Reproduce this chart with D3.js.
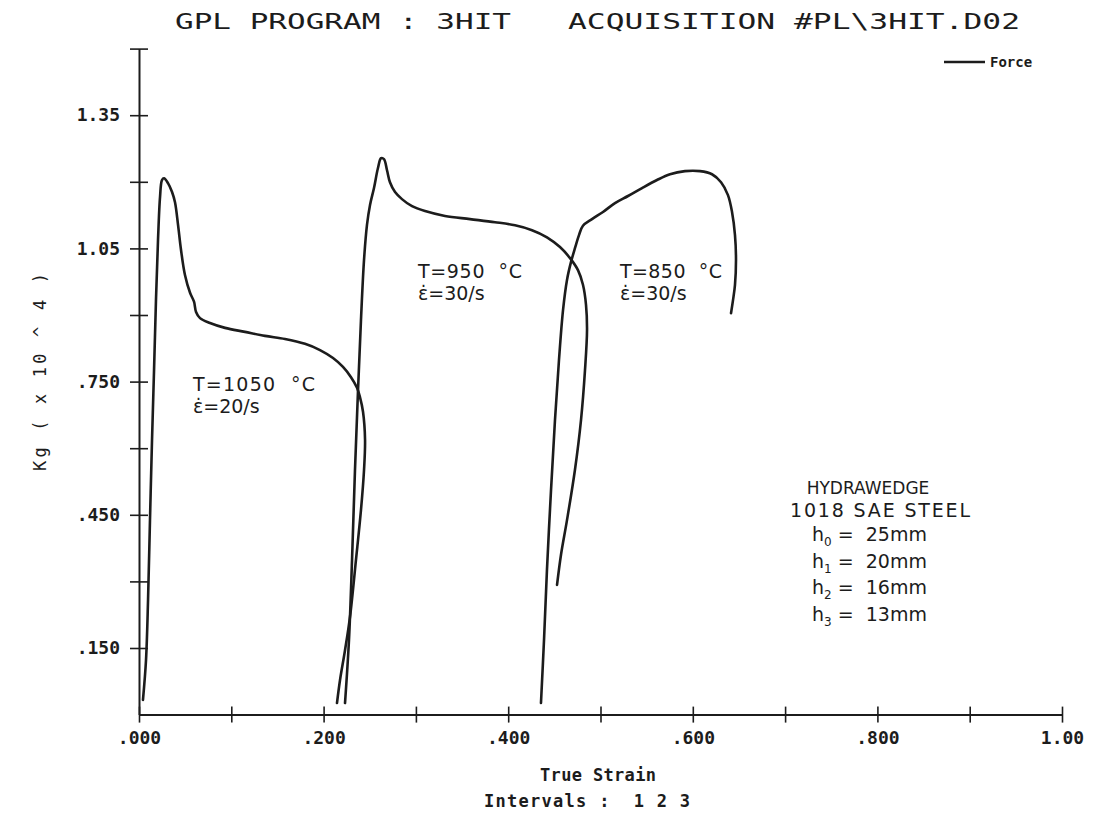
<!DOCTYPE html>
<html>
<head>
<meta charset="utf-8">
<script src="https://cdn.jsdelivr.net/npm/d3@7"></script>
<style>
  html, body { margin: 0; padding: 0; background: #fff; }
  svg { display: block; }
</style>
</head>
<body>
<svg id="chart" width="1093" height="814"></svg>
<script>
// ---------------- data (True Strain vs Kg x 10^4) ----------------
const strain1 = [0.0043,0.0076,0.0098,0.0119,0.0141,0.0163,0.0184,0.0206,0.0228,0.0249,0.0271,0.0314,0.0358,0.0390,0.0423,0.0455,0.0498,0.0553,0.0596,0.0618,0.0661,0.0769,0.0932,0.1148,0.1365,0.1582,0.1798,0.1961,0.2102,0.2210,0.2297,0.2362,0.2394,0.2427,0.2449,0.2438,0.2405,0.2351,0.2286,0.2232,0.2178,0.2145];
const force1  = [0.033,0.123,0.258,0.438,0.618,0.776,0.934,1.069,1.166,1.204,1.208,1.197,1.177,1.154,1.103,1.047,0.990,0.950,0.930,0.907,0.893,0.882,0.871,0.862,0.853,0.846,0.835,0.821,0.803,0.783,0.760,0.736,0.715,0.682,0.619,0.551,0.461,0.349,0.220,0.145,0.078,0.026];

const strain2 = [0.2232,0.2275,0.2308,0.2340,0.2373,0.2405,0.2438,0.2470,0.2503,0.2546,0.2589,0.2622,0.2654,0.2687,0.2719,0.2774,0.2849,0.2958,0.3099,0.3315,0.3586,0.3857,0.4074,0.4258,0.4420,0.4561,0.4670,0.4756,0.4810,0.4843,0.4854,0.4832,0.4789,0.4723,0.4637,0.4572,0.4529];
const force2  = [0.026,0.168,0.348,0.551,0.731,0.889,1.024,1.103,1.148,1.186,1.231,1.253,1.251,1.226,1.199,1.177,1.161,1.145,1.134,1.123,1.116,1.109,1.102,1.091,1.075,1.053,1.028,1.001,0.968,0.923,0.866,0.776,0.664,0.551,0.438,0.360,0.292];

const strain3 = [0.4355,0.4388,0.4420,0.4464,0.4507,0.4550,0.4594,0.4637,0.4680,0.4724,0.4767,0.4810,0.4908,0.5027,0.5157,0.5298,0.5450,0.5612,0.5753,0.5915,0.6078,0.6208,0.6306,0.6381,0.6425,0.6457,0.6468,0.6457,0.6436,0.6414];
const force3  = [0.026,0.168,0.326,0.506,0.664,0.798,0.911,0.979,1.019,1.051,1.080,1.101,1.116,1.132,1.152,1.168,1.186,1.204,1.217,1.224,1.224,1.217,1.199,1.170,1.132,1.080,1.024,0.968,0.934,0.904];

const xTickValues = [0,0.1,0.2,0.3,0.4,0.5,0.6,0.7,0.8,0.9,1.0];
const xTickLabels = {"0":".000","0.2":".200","0.4":".400","0.6":".600","0.8":".800","1":"1.00"};
const yTickValues = [0.15,0.30,0.45,0.60,0.75,0.90,1.05,1.20,1.35,1.50];
const yTickLabels = {"0.15":".150","0.45":".450","0.75":".750","1.05":"1.05","1.35":"1.35"};

const titleLeft = "GPL PROGRAM : 3HIT";
const titleRight = "ACQUISITION #PL\\3HIT.D02";
const xTitle = "True Strain";
const xSubTitle = "Intervals :  1 2 3";
const yTitle = "Kg ( x 10 ^ 4 )";
const legendLabel = "Force";
const curveLabels = [
  {t:"T=1050  \u00B0C", r:"\u03B5\u0307=20/s"},
  {t:"T=950  \u00B0C",  r:"\u03B5\u0307=30/s"},
  {t:"T=850  \u00B0C",  r:"\u03B5\u0307=30/s"}
];
const infoLines = ["HYDRAWEDGE","1018 SAE STEEL"];
const heights = [["0","25mm"],["1","20mm"],["2","16mm"],["3","13mm"]];

// ---------------- drawing ----------------
const ink = "#1c1c1c";
const mono = "'DejaVu Sans Mono', monospace";
const sans = "'DejaVu Sans', sans-serif";
const svg = d3.select("#chart");
svg.append("rect").attr("width",1093).attr("height",814).attr("fill","#fff");

const x = d3.scaleLinear().domain([0,1]).range([139,1062]);
const y = d3.scaleLinear().domain([0,1.5]).range([714.6,48.6]);

// title
svg.append("text").attr("x",175).attr("y",29)
  .attr("font-family",mono).attr("font-size",22).attr("fill",ink)
  .attr("textLength",336).attr("lengthAdjust","spacingAndGlyphs").text(titleLeft);
svg.append("text").attr("x",568).attr("y",29)
  .attr("font-family",mono).attr("font-size",22).attr("fill",ink)
  .attr("textLength",452).attr("lengthAdjust","spacingAndGlyphs").text(titleRight);

// x axis
const xAxis = d3.axisBottom(x).tickValues(xTickValues)
  .tickFormat(d => xTickLabels[String(+d.toFixed(1))] || "").tickSize(0).tickPadding(17);
const gx = svg.append("g").attr("transform",`translate(0,${y(0)})`).call(xAxis);
gx.select(".domain").attr("stroke",ink).attr("stroke-width",2);
gx.selectAll(".tick line").attr("y1",-8).attr("y2",8).attr("stroke",ink).attr("stroke-width",1.6);
gx.selectAll(".tick text").attr("font-family",mono)
  .attr("font-size",18).attr("font-weight","bold").attr("fill",ink);

// y axis
const yAxis = d3.axisLeft(y).tickValues(yTickValues)
  .tickFormat(d => yTickLabels[String(+d.toFixed(2))] || "").tickSize(0).tickPadding(19);
const gy = svg.append("g").attr("transform",`translate(${x(0)},0)`).call(yAxis);
gy.select(".domain").attr("stroke",ink).attr("stroke-width",2);
gy.selectAll(".tick line").attr("x1",-9).attr("x2",9).attr("stroke",ink).attr("stroke-width",1.6);
gy.selectAll(".tick text").attr("font-family",mono)
  .attr("font-size",18).attr("font-weight","bold").attr("fill",ink);

// axis titles
svg.append("text").attr("x",598).attr("y",781).attr("text-anchor","middle")
  .attr("font-family",mono).attr("font-size",17).attr("font-weight","bold")
  .attr("fill",ink).attr("textLength",116).text(xTitle);
svg.append("text").attr("x",484).attr("y",807)
  .attr("font-family",mono).attr("font-size",17).attr("font-weight","bold")
  .attr("fill",ink).style("white-space","pre").attr("textLength",206).text(xSubTitle);
svg.append("text").attr("transform","translate(46,372) rotate(-90)").attr("text-anchor","middle")
  .attr("font-family",mono).attr("font-size",17)
  .attr("fill",ink).style("white-space","pre").attr("textLength",198).text(yTitle);

// legend
svg.append("line").attr("x1",944).attr("x2",985).attr("y1",62).attr("y2",62)
  .attr("stroke",ink).attr("stroke-width",2.5);
svg.append("text").attr("x",990).attr("y",67)
  .attr("font-family",mono).attr("font-size",14).attr("font-weight","bold")
  .attr("fill",ink).text(legendLabel);

// curves
const line = d3.line().x(d => x(d[0])).y(d => y(d[1])).curve(d3.curveCatmullRom.alpha(0.5));
[[strain1,force1],[strain2,force2],[strain3,force3]].forEach(([sx,fy]) => {
  svg.append("path").datum(sx.map((v,i) => [v, fy[i]]))
    .attr("d",line).attr("fill","none").attr("stroke",ink)
    .attr("stroke-width",2.6).attr("stroke-linejoin","round").attr("stroke-linecap","round");
});

// curve annotations
const labelPos = [[193,391,122],[418,278,104],[620,278,102]];
curveLabels.forEach((c,i) => {
  const [lx,ly,w] = labelPos[i];
  const g = svg.append("g").attr("font-family",sans).attr("font-size",19).attr("fill",ink);
  g.append("text").attr("x",lx).attr("y",ly).style("white-space","pre")
    .attr("textLength",w).text(c.t);
  g.append("text").attr("x",lx).attr("y",ly+22).text(c.r);
});

// info block
const info = svg.append("g").attr("font-family",sans).attr("font-size",19).attr("fill",ink);
info.append("text").attr("x",868).attr("y",494).attr("text-anchor","middle").attr("font-size",17).text(infoLines[0]);
info.append("text").attr("x",790).attr("y",517).attr("textLength",180).style("white-space","pre").text(infoLines[1]);
heights.forEach((h,i) => {
  const t = info.append("text").attr("x",812).attr("y",541 + i*26.5).style("white-space","pre");
  t.append("tspan").text("h");
  t.append("tspan").attr("dy",5).attr("font-size",12).text(h[0]);
  t.append("tspan").attr("dy",-5).text(" =  " + h[1]);
});
</script>
</body>
</html>
